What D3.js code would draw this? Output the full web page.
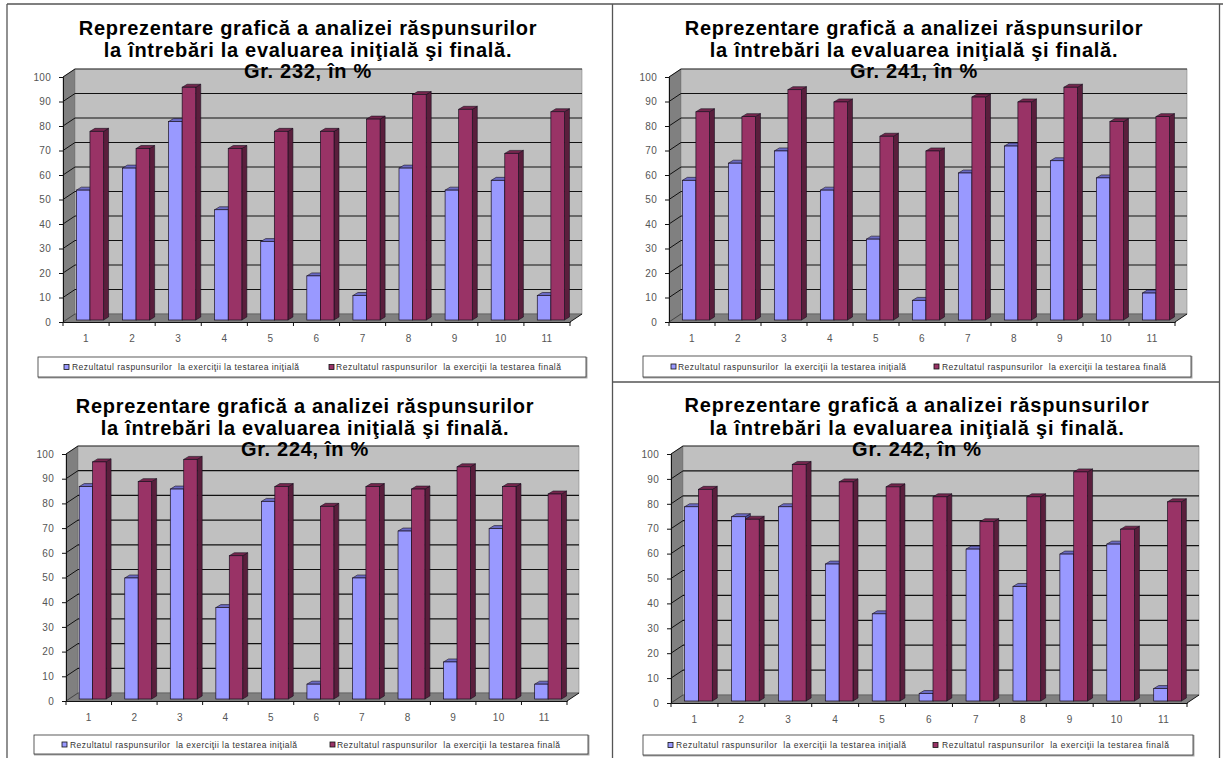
<!DOCTYPE html>
<html lang="ro">
<head>
<meta charset="utf-8">
<script src="https://cdn.jsdelivr.net/npm/d3@7/dist/d3.min.js"></script>
<style>
  html, body { margin: 0; padding: 0; background: #fff; }
  svg { display: block; }
  text { font-family: "Liberation Sans", Arial, sans-serif; }
</style>
</head>
<body>
<svg id="sheet" width="1223" height="758"></svg>
<script>
// Question numbers and axis ticks shared by all four groups
const questions = ["1","2","3","4","5","6","7","8","9","10","11"];
const percentTicks = [0,10,20,30,40,50,60,70,80,90,100];

// Share of correct answers per question, initial and final test
const initial232 = [53,62,81,45,32,18,10,62,53,57,10];
const final232   = [77,70,95,70,77,77,82,92,86,68,85];
const initial241 = [57,64,69,53,33,8,60,71,65,58,11];
const final241   = [85,83,94,89,75,69,91,89,95,81,83];
const initial224 = [86,49,85,37,80,6,49,68,15,69,6];
const final224   = [96,88,97,58,86,78,86,85,94,86,83];
const initial242 = [78,74,78,55,35,3,61,46,59,63,5];
const final242   = [85,73,95,88,86,82,72,82,92,69,80];

const titleLines = ["Reprezentare grafică a analizei răspunsurilor",
                    "la întrebări la evaluarea iniţială şi finală."];
const legendInitial = "Rezultatul raspunsurilor  la exerciţii la testarea iniţială";
const legendFinal   = "Rezultatul raspunsurilor  la exerciţii la testarea finală";

// Placement of each chart on the sheet
const panels = [
  { group:"232", a:initial232, b:final232, x0:63,  x1:570,  y0:322, y100:77,  titleX:308, titleY:[35,57,78], titleGap:0.7,
    box:[38,357,586,377], legA:[64,72,227], legB:[329,336,225] },
  { group:"241", a:initial241, b:final241, x0:669, x1:1175, y0:322, y100:77,  titleX:914, titleY:[35,57,78], titleGap:0.7,
    box:[643,356,1191,377], legA:[671,678,228], legB:[934,942,224] },
  { group:"224", a:initial224, b:final224, x0:66,  x1:567,  y0:701, y100:454, titleX:305, titleY:[413,435,456], titleGap:0.7,
    box:[34,735,588,754], legA:[62,70,227], legB:[330,337,223] },
  { group:"242", a:initial242, b:final242, x0:671, x1:1187, y0:703, y100:454, titleX:917, titleY:[412,435,456], titleGap:0.85,
    box:[643,735,1193,755], legA:[668,676,230], legB:[933,942,227] }
];

const depthX = 12, depthY = 8;      // wall depth of the 3D box
const barDepthX = 5, barDepthY = 3; // depth of a single bar

const colors = {
  initial: { front:"#9999ff", top:"#6b6bc4", side:"#4c4c99" },
  final:   { front:"#993366", top:"#75264d", side:"#5a1e3c" }
};

const svg = d3.select("#sheet");

function drawPanel(p) {
  const g = svg.append("g").attr("class", "panel-" + p.group);
  const y = d3.scaleLinear().domain([0,100]).range([p.y0, p.y100]);
  const x = d3.scaleBand().domain(questions).range([p.x0, p.x1]);
  const inner = d3.scaleBand().domain(["a","b"])
    .range([0, x.step() * 0.59]);
  const barOffset = x.step() * 0.29;
  const barBase = 2; // bars stand slightly behind the front edge of the floor

  // side wall, back wall and floor
  const poly = pts => pts.map(d => d.join(",")).join(" ");
  g.append("polygon").attr("points", poly([[p.x0,p.y0],[p.x0,p.y100],[p.x0+depthX,p.y100-depthY],[p.x0+depthX,p.y0-depthY]]))
    .attr("fill","#808080").attr("stroke","#666").attr("stroke-width",0.5);
  g.append("rect").attr("x",p.x0+depthX).attr("y",p.y100-depthY)
    .attr("width",p.x1-p.x0).attr("height",p.y0-p.y100)
    .attr("fill","#c0c0c0").attr("stroke","#777").attr("stroke-width",0.5);
  g.append("polygon").attr("points", poly([[p.x0,p.y0],[p.x1,p.y0],[p.x1+depthX,p.y0-depthY],[p.x0+depthX,p.y0-depthY]]))
    .attr("fill","#808080");

  // gridlines run across the back wall and slant down the side wall
  percentTicks.forEach(t => {
    const yy = y(t);
    g.append("line").attr("x1",p.x0+depthX).attr("x2",p.x1+depthX)
     .attr("y1",yy-depthY).attr("y2",yy-depthY)
     .attr("stroke", t === 0 ? "#666" : (t === 100 ? "#333" : "#111")).attr("stroke-width",1.2);
    g.append("line").attr("x1",p.x0).attr("x2",p.x0+depthX)
     .attr("y1",yy).attr("y2",yy-depthY)
     .attr("stroke","#111").attr("stroke-width",t === 0 ? 0.6 : 1);
  });
  g.append("line").attr("x1",p.x1).attr("x2",p.x1+depthX)
   .attr("y1",p.y0).attr("y2",p.y0-depthY).attr("stroke","#111").attr("stroke-width",1);

  // bars: each one is a front face plus top and side faces
  const drawBar = (cat, key, value, palette) => {
    const bx = x(cat) + barOffset + inner(key);
    const bw = inner.bandwidth();
    const base = y(0) - barBase;
    const top = y(value) - barBase;
    const b = g.append("g");
    b.append("polygon").attr("points", poly([[bx+bw,base],[bx+bw,top],[bx+bw+barDepthX,top-barDepthY],[bx+bw+barDepthX,base-barDepthY]]))
     .attr("fill",palette.side).attr("stroke","#1a1020").attr("stroke-width",0.6);
    b.append("polygon").attr("points", poly([[bx,top],[bx+bw,top],[bx+bw+barDepthX,top-barDepthY],[bx+barDepthX,top-barDepthY]]))
     .attr("fill",palette.top).attr("stroke","#1a1020").attr("stroke-width",0.6);
    b.append("rect").attr("x",bx).attr("y",top).attr("width",bw).attr("height",base-top)
     .attr("fill",palette.front).attr("stroke","#1a1020").attr("stroke-width",0.7);
  };
  questions.forEach((q,i) => {
    drawBar(q,"a",p.a[i],colors.initial);
    drawBar(q,"b",p.b[i],colors.final);
  });

  // axes
  const yAxis = d3.axisLeft(y).tickValues(percentTicks).tickSize(4).tickPadding(8);
  const ya = g.append("g").attr("transform",`translate(${p.x0},0)`).call(yAxis);
  const xAxis = d3.axisBottom(x).tickSize(0).tickPadding(13);
  const xa = g.append("g").attr("transform",`translate(0,${p.y0})`).call(xAxis);
  [ya, xa].forEach(a => {
    a.selectAll("text").attr("font-size",10).attr("fill","#555")
     .attr("letter-spacing",0.3)
     .style("font-family",'"Liberation Sans", Arial, sans-serif');
    a.selectAll("path,line").attr("stroke","#111").attr("stroke-width",1);
  });
  // category separators on the x axis
  d3.range(questions.length + 1).forEach(i => {
    const tx = p.x0 + i * x.step();
    xa.append("line").attr("x1",tx).attr("x2",tx).attr("y1",0).attr("y2",4).attr("stroke","#111");
  });

  // title lines sit on top of the wall
  [titleLines[0], titleLines[1], `Gr. ${p.group}, în %`].forEach((s,i) => {
    g.append("text").attr("x",p.titleX).attr("y",p.titleY[i])
     .attr("text-anchor","middle").attr("font-weight","bold")
     .attr("font-size",20).attr("fill","#000").attr("letter-spacing",p.titleGap).text(s);
  });

  // legend box with a soft grey lower edge
  const [bx0,by0,bx1,by1] = p.box;
  g.append("polyline").attr("points",poly([[bx0,by1+0.5],[bx1+0.5,by1+0.5],[bx1+0.5,by0]]))
    .attr("fill","none").attr("stroke","#aaa").attr("stroke-width",2);
  g.append("rect").attr("x",bx0).attr("y",by0).attr("width",bx1-bx0).attr("height",by1-by0)
    .attr("fill","#fff").attr("stroke","#333").attr("stroke-width",0.8);
  const cy = (by0+by1)/2;
  [[p.legA,legendInitial,colors.initial.front],[p.legB,legendFinal,colors.final.front]].forEach(([l,s,c]) => {
    g.append("rect").attr("x",l[0]).attr("y",cy-2.5).attr("width",5).attr("height",5)
     .attr("fill",c).attr("stroke","#111").attr("stroke-width",0.8);
    g.append("text").attr("x",l[1]).attr("y",cy+3).attr("font-size",8.5).attr("fill","#333")
     .attr("textLength",l[2]).attr("lengthAdjust","spacing")
     .style("white-space","pre").text(s);
  });
}

panels.forEach(drawPanel);

// frame lines separating the four charts
const frame = [
  [7,4,1223,4],[7,4,7,758],[612.5,4,612.5,758],[612.5,382,1220,382],[1219.5,4,1219.5,758]
];
svg.append("g").selectAll("line").data(frame).join("line")
  .attr("x1",d=>d[0]).attr("y1",d=>d[1]).attr("x2",d=>d[2]).attr("y2",d=>d[3])
  .attr("stroke","#555").attr("stroke-width",1.3);
</script>
</body>
</html>
